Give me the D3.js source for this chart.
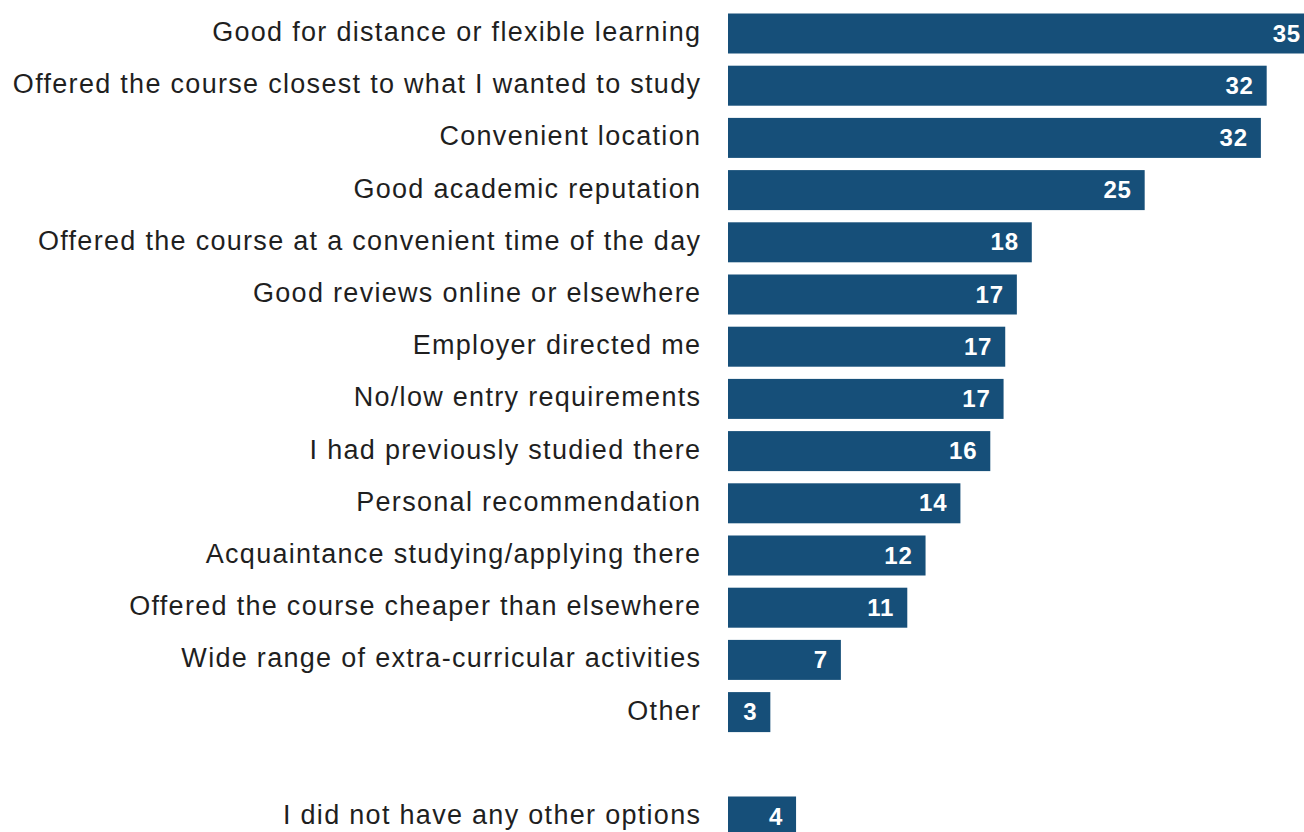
<!DOCTYPE html>
<html>
<head>
<meta charset="utf-8">
<script src="https://cdn.jsdelivr.net/npm/d3@7"></script>
<style>
  html, body { margin: 0; padding: 0; background: #ffffff; }
  svg { display: block; }
</style>
</head>
<body>
<div id="chart"></div>
<script>
// Reasons for choosing the provider (% of respondents)
const reasons = [
  "Good for distance or flexible learning",
  "Offered the course closest to what I wanted to study",
  "Convenient location",
  "Good academic reputation",
  "Offered the course at a convenient time of the day",
  "Good reviews online or elsewhere",
  "Employer directed me",
  "No/low entry requirements",
  "I had previously studied there",
  "Personal recommendation",
  "Acquaintance studying/applying there",
  "Offered the course cheaper than elsewhere",
  "Wide range of extra-curricular activities",
  "Other"
];
const reasonValues = [35.3, 32.45, 32.1, 25.1, 18.3, 17.4, 16.7, 16.6, 15.8, 14.0, 11.9, 10.8, 6.8, 2.55];

// Shown separately, below a gap
const standalone = ["I did not have any other options"];
const standaloneValues = [4.1];

const width = 1304, height = 832;
const barColor = "#164f79";
const labelColor = "#1f1f1f";
const labelSpacing = 1.3;

const rows = reasons.map((r, i) => ({ key: r, label: r, value: reasonValues[i] }))
  .concat(standalone.map((r, i) => ({ key: r, label: r, value: standaloneValues[i] })));

const gapKey = "__gap__";
const domainKeys = reasons.concat([gapKey], standalone);

const svg = d3.select("#chart").append("svg")
  .attr("width", width)
  .attr("height", height);

const x = d3.scaleLinear()
  .domain([0, 35.3])
  .range([728, 1314]);

const y = d3.scaleBand()
  .domain(domainKeys)
  .range([13.5, 13.5 + 16 * 52.2 - 12.2])
  .paddingInner(12.2 / 52.2)
  .paddingOuter(0);

const fmt = d3.format(".0f");

// Bars
svg.append("g")
  .selectAll("rect")
  .data(rows)
  .join("rect")
  .attr("x", x(0))
  .attr("y", d => y(d.key))
  .attr("width", d => x(d.value) - x(0))
  .attr("height", y.bandwidth())
  .attr("fill", barColor);

// Category labels
const yAxis = d3.axisLeft(y)
  .tickSize(0)
  .tickPadding(0)
  .tickFormat(k => k === gapKey ? "" : k);

const axisG = svg.append("g")
  .attr("transform", "translate(700,0)")
  .call(yAxis);
axisG.select(".domain").remove();
axisG.selectAll("text")
  .attr("font-family", "'Liberation Sans', Arial, sans-serif")
  .attr("font-size", 27)
  .attr("letter-spacing", labelSpacing)
  .attr("fill", labelColor)
  .attr("x", labelSpacing)
  .attr("dy", "0.28em");

// Value labels inside bar ends
svg.append("g")
  .selectAll("text")
  .data(rows)
  .join("text")
  .attr("x", d => x(d.value) - 13)
  .attr("y", d => y(d.key) + y.bandwidth() / 2)
  .attr("dy", "0.34em")
  .attr("text-anchor", "end")
  .attr("font-family", "'Liberation Sans', Arial, sans-serif")
  .attr("font-weight", "bold")
  .attr("font-size", 24)
  .attr("letter-spacing", 0.8)
  .attr("fill", "#ffffff")
  .text(d => fmt(d.value));
</script>
</body>
</html>
